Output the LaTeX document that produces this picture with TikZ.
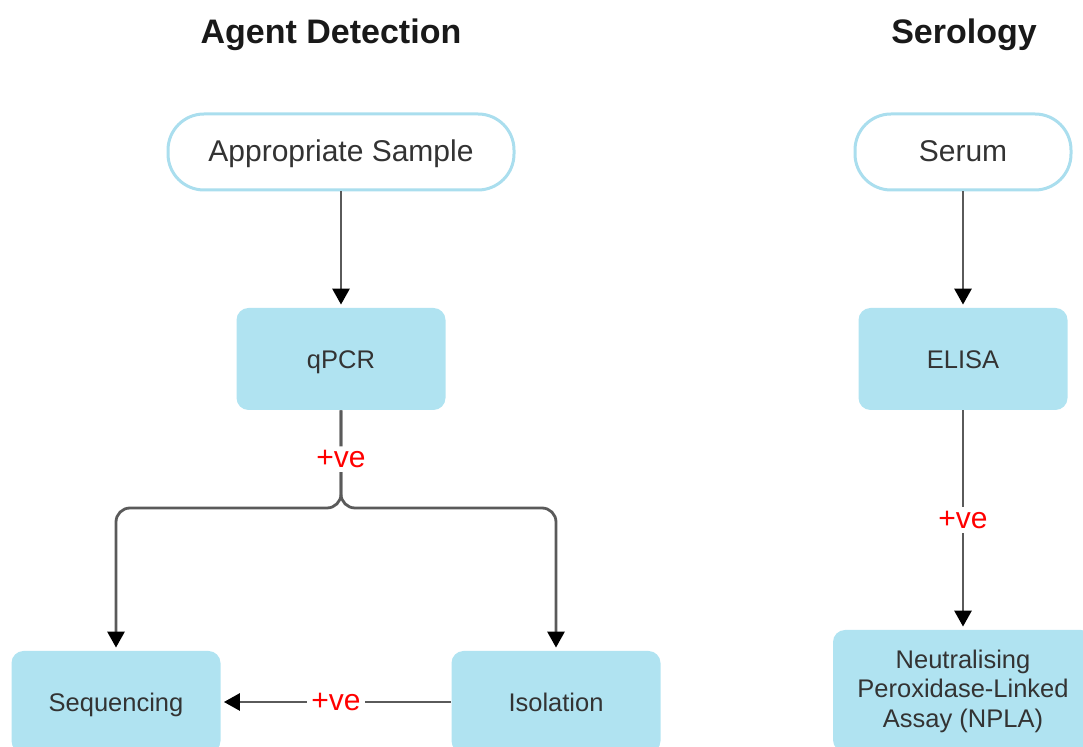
\documentclass[tikz,border=0pt]{standalone}
\usepackage{fontspec}
\setmainfont{Liberation Sans}
\usetikzlibrary{arrows.meta}

\definecolor{boxblue}{RGB}{176,227,241}
\definecolor{rimblue}{RGB}{170,222,238}
\definecolor{linegray}{RGB}{90,90,90}
\definecolor{textgray}{RGB}{51,51,51}

\begin{document}
\begin{tikzpicture}[x=0.5pt,y=-0.5pt,
    title/.style={font=\fontsize{17}{20}\selectfont\bfseries, text=black!90},
    startbox/.style={rectangle, rounded corners=18pt, draw=rimblue, line width=1.5pt,
        fill=white, minimum width=#1, minimum height=38pt, text=textgray,
        font=\fontsize{15}{18}\selectfont, text height=1.75ex, text depth=0pt},
    stepbox/.style={rectangle, rounded corners=6pt, fill=boxblue, minimum width=104.5pt,
        minimum height=51pt, text=textgray, font=\fontsize{12.75}{14.75}\selectfont,
        align=center, text height=1.75ex, text depth=0pt},
    link/.style={draw=linegray, line width=1.4pt, shorten >=1.5pt,
        -{Triangle[width=8.5pt,length=8pt,color=black]}},
    poslabel/.style={fill=white, text=red, inner sep=2pt, font=\fontsize{15}{18}\selectfont} ]

    \useasboundingbox (0,0) rectangle (1083,747);
    \clip (0,0) rectangle (1083,747);

    %% titles
    \node[title] (t1) at (331,35) {Agent Detection};
    \node[title] (t2) at (964,35) {Serology};

    %% agent detection
    \node[startbox=173pt] (sample) at (341,152) {Appropriate Sample};
    \node[stepbox] (qpcr) at (341,359) {qPCR};
    \node[stepbox] (seq) at (116,702) {Sequencing};
    \node[stepbox] (iso) at (556,702) {Isolation};
    \coordinate (split) at (341,508);

    %% serology
    \node[startbox=108pt] (serum) at (963,152) {Serum};
    \node[stepbox] (elisa) at (963,359) {ELISA};
    \node[stepbox, minimum width=130pt, minimum height=61pt, text height={}, text depth={}]
        (npla) at (963,691) {Neutralising\\Peroxidase-Linked\\Assay (NPLA)};

    \draw[link] (sample) -- (qpcr);
    \draw[link, rounded corners=7pt] (qpcr.south) -- (split) -| (seq.north);
    \draw[link, rounded corners=7pt] (qpcr.south) -- node[poslabel] (pos1) {+ve} (split) -| (iso.north);
    \draw[link] (iso.west) -- node[poslabel] (pos2) {+ve} (seq.east);

    \draw[link] (serum) -- (elisa);
    \draw[link] (elisa) -- node[poslabel] (pos3) {+ve} (npla);

\end{tikzpicture}
\end{document}
